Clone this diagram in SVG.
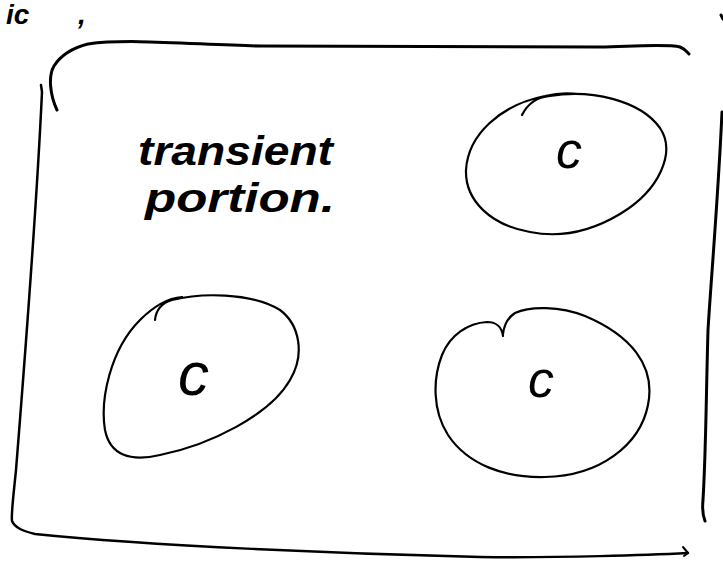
<svg xmlns="http://www.w3.org/2000/svg" width="723" height="563" viewBox="0 0 723 563">
<style>
.ink{fill:none;stroke:#000;stroke-linecap:round;stroke-linejoin:round}
.hand{font-family:"Liberation Sans","DejaVu Sans",sans-serif;font-style:italic;fill:#000}
</style>
<rect width="723" height="563" fill="#fff"/>
<g id="frame">
<path class="ink" stroke-width="3" d="M57,110 C50,95 48,76 54,66 C61,55 72,48 88,44 C130,38 200,45 260,46 L600,47 C640,46 668,44 680,47 C685,49 687,52 689,54"/>
<path class="ink" stroke-width="2.5" d="M41,85 L42,92 C37,200 24,370 16,470 C13,500 11,515 12,521 C15,528 23,531 35,534 C150,546 350,554 480,557 C560,558 650,555 688,553"/>
<path class="ink" stroke-width="2" d="M683,547 L688,553 L684,556"/>
<path class="ink" stroke-width="3" d="M722,112 C718,200 711,280 708,330 C706,400 706,450 703,500 C702,510 703,516 705,521"/>
<path class="ink" stroke-width="3" d="M721,15 L723,19"/>
</g>
<g id="header">
<text class="hand" font-weight="bold" x="6" y="24" font-size="28">ic<tspan x="78">,</tspan></text>
</g>
<g id="label">
<text class="hand" font-weight="bold" x="138" y="165" font-size="40" textLength="195" lengthAdjust="spacingAndGlyphs">transient</text>
<text class="hand" font-weight="bold" x="145" y="212" font-size="40" textLength="190" lengthAdjust="spacingAndGlyphs">portion.</text>
</g>
<g id="node-c1">
<path class="ink" stroke-width="2.2" d="M522,115 C528,103 538,97 550,96 C590,89 640,100 660,128 C676,152 660,190 620,214 C590,232 560,238 530,232 C490,225 465,200 466,170 C468,135 500,105 545,96 C558,93 568,93 576,94"/>
<text class="hand" x="556" y="168" font-size="52">c</text>
</g>
<g id="node-c2">
<path class="ink" stroke-width="2.2" d="M155,320 C156,310 162,303 172,300 C200,293 250,292 280,310 C300,325 305,355 290,380 C270,415 210,445 160,455 C130,462 110,455 105,430 C100,400 110,350 140,320 C155,305 170,298 182,297"/>
<text class="hand" x="178" y="395" font-size="62">c</text>
</g>
<g id="node-c3">
<path class="ink" stroke-width="2.2" d="M503,336 C502,328 497,322 487,322 C468,323 450,335 442,355 C433,378 432,410 448,435 C468,465 505,478 545,477 C600,476 640,445 648,405 C656,365 630,335 585,316 C560,306 530,306 515,313 C507,318 504,326 503,334"/>
<text class="hand" x="528" y="397" font-size="52">c</text>
</g>
</svg>
